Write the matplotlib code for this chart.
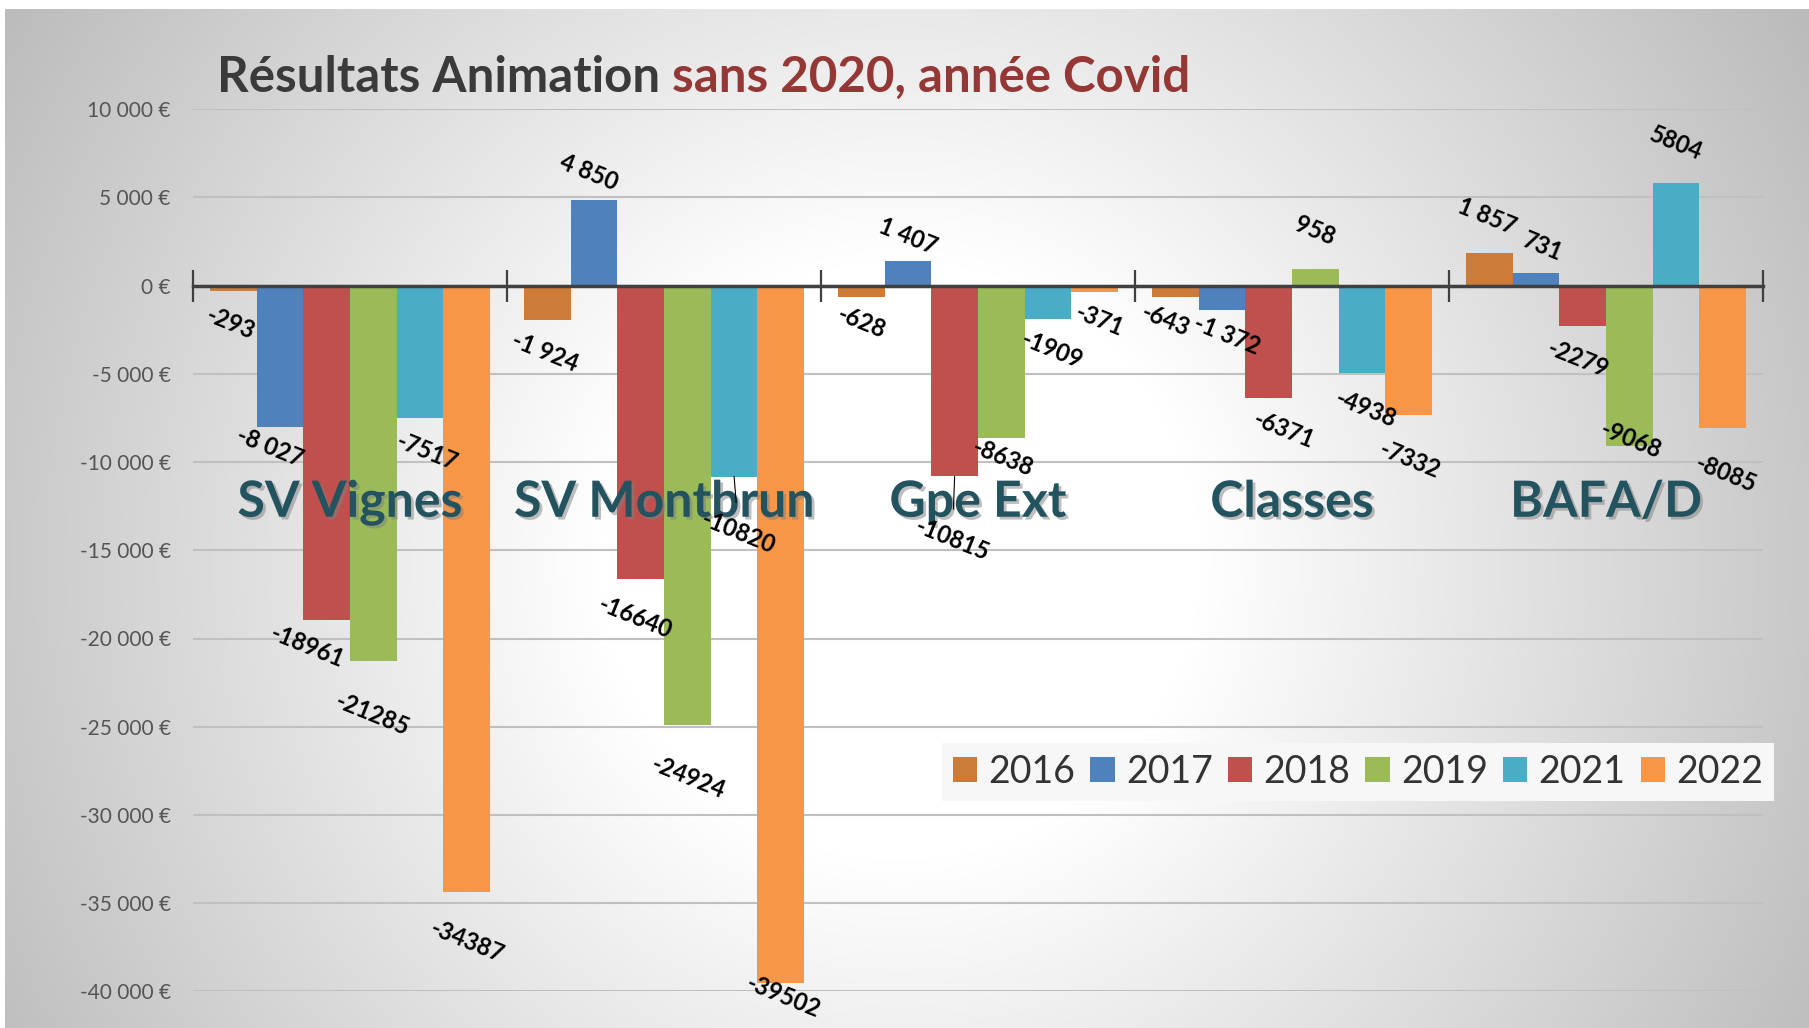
import matplotlib
matplotlib.use("Agg")
import matplotlib.pyplot as plt
import matplotlib.patheffects as pe
from matplotlib.ticker import FuncFormatter, FixedLocator
import numpy as np

plt.rcParams['font.family'] = ['Lato', 'DejaVu Sans']

categories = ["SV Vignes", "SV Montbrun", "Gpe Ext", "Classes", "BAFA/D"]
years = ["2016", "2017", "2018", "2019", "2021", "2022"]

res_2016 = [-293, -1924, -628, -643, 1857]
res_2017 = [-8027, 4850, 1407, -1372, 731]
res_2018 = [-18961, -16640, -10815, -6371, -2279]
res_2019 = [-21285, -24924, -8638, 958, -9068]
res_2021 = [-7517, -10820, -1909, -4938, 5804]
res_2022 = [-34387, -39502, -371, -7332, -8085]
series = [res_2016, res_2017, res_2018, res_2019, res_2021, res_2022]

# 2016 and 2017 labels were written with a space as thousands separator
space_sep = [True, True, False, False, False, False]

colors = ["#CC7B38", "#4F81BD", "#C0504D", "#9BBB59", "#4BACC6", "#F79646"]

# hand-placed label offsets (px on the reference, x right / y down)
label_offsets = [
    [(-2, 28), (-2, 28), (0, 22), (-8, 20), (-2, -32)],
    [(-9, 17), (-4, -24), (0, -21), (4, 22), (6, -23)],
    [(-17, 23), (-5, 33), (-2, 55), (13, 28), (-4, 29)],
    [(-1, 46), (1, 45), (1, 17), (0, -33), (1, -5)],
    [(6, 29), (4, 49), (3, 27), (3, 31), (0, -35)],
    [(0, 43), (2, 12), (4, 24), (1, 39), (3, 40)],
]
leader = {(2, 2), (4, 1)}

W, H = 1809, 1028
fig = plt.figure(figsize=(W / 100, H / 100), dpi=100)

# radial grey background
bg = fig.add_axes([0, 0, 1, 1])
bg.axis("off")
yy, xx = np.mgrid[0:H, 0:W]
d = np.hypot(xx - 900, yy - 560)
g = 255 - 0.09 * np.clip(d - 300, 0, None)
g = np.clip(g, 180, 255) / 255.0
img = np.dstack([g, g, g])
img[:9, :, :] = 1.0
img[:, :5, :] = 1.0
bg.imshow(img, extent=[0, 1, 0, 1], aspect="auto", origin="upper")
bg.set_xlim(0, 1)
bg.set_ylim(0, 1)

ax = fig.add_axes([193 / W, 1 - 991.3 / H, (1763 - 193) / W, (991.3 - 109.3) / H])
ax.patch.set_alpha(0)

n = len(series)
group_w = 0.893
bw = group_w / n
x = np.arange(len(categories))
for i, vals in enumerate(series):
    xs = x - group_w / 2 + bw * (i + 0.5)
    ax.bar(xs, vals, bw, color=colors[i], label=years[i], zorder=2)
    for j, v in enumerate(vals):
        if space_sep[i]:
            txt = f"{v:,}".replace(",", " ")
        else:
            txt = str(v)
        dx, dy = label_offsets[i][j]
        arrow = None
        if (i, j) in leader:
            arrow = dict(arrowstyle="-", color="black", lw=0.8, shrinkA=2, shrinkB=0)
        ax.annotate(txt, xy=(xs[j], v), xytext=(dx * 0.83, -dy * 0.83),
                    textcoords="offset points", ha="center", va="center",
                    rotation=-22, rotation_mode="anchor", fontsize=17,
                    fontweight="bold", color="black", zorder=6,
                    arrowprops=arrow)

ax.set_xlim(-0.5, len(categories) - 0.5)
ax.set_ylim(-40000, 10000)
ax.yaxis.set_major_locator(FixedLocator(np.arange(-40000, 10001, 5000)))
ax.yaxis.set_major_formatter(FuncFormatter(lambda v, p: f"{int(v):,}".replace(",", " ") + " €"))
ax.yaxis.grid(True, color="#c0c0c0", lw=1.5)
ax.set_axisbelow(True)
ax.tick_params(axis="y", length=0, pad=16, labelsize=15, labelcolor="#555555")

ax.set_xticks(np.arange(-0.5, len(categories), 1.0))
ax.tick_params(axis="x", direction="inout", length=23, width=1.6, color="#404040",
               labelbottom=False)
for s in ["top", "right", "left"]:
    ax.spines[s].set_visible(False)
ax.spines["bottom"].set_position(("data", 0))
ax.spines["bottom"].set_color("#404040")
ax.spines["bottom"].set_linewidth(2.5)
ax.spines["bottom"].set_zorder(4)

for j, c in enumerate(categories):
    ax.text(x[j], -13100, c, ha="center", va="baseline", fontsize=36,
            fontweight="bold", color="#22535f", zorder=5,
            path_effects=[pe.SimplePatchShadow(offset=(2, -2), shadow_rgbFace="#7f7f7f", alpha=0.5),
                          pe.Normal()])

t1 = fig.text(217 / W, 1 - 92 / H, "Résultats Animation ", fontsize=35.5,
              fontweight="bold", color="#3a3a3a", va="baseline")
ax.annotate("sans 2020, année Covid", xy=(1, 0), xycoords=t1, xytext=(0, 0),
            textcoords="offset points", ha="left", va="bottom", fontsize=35.5,
            fontweight="bold", color="#953735", annotation_clip=False)

leg = ax.legend(loc="center", bbox_to_anchor=(1358 / W, 1 - 772 / H),
                bbox_transform=fig.transFigure, ncol=6, fontsize=27,
                frameon=True, facecolor="#f7f7f7", edgecolor="none", framealpha=1,
                fancybox=False, handlelength=0.65, handleheight=0.65,
                handletextpad=0.3, columnspacing=0.4, borderpad=0.3)
for t in leg.get_texts():
    t.set_color("#333333")

fig.savefig("out.png", dpi=100)
